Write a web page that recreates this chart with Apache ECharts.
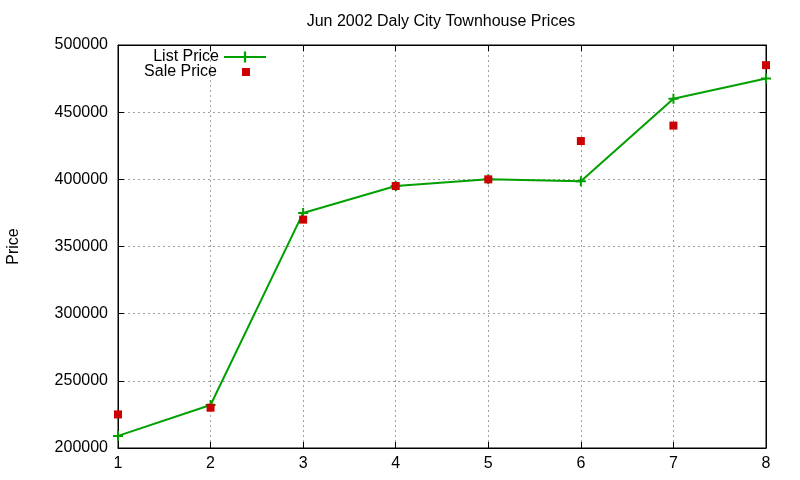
<!DOCTYPE html>
<html>
<head>
<meta charset="utf-8">
<script src="https://cdn.jsdelivr.net/npm/echarts@6/dist/echarts.min.js"></script>
<style>
  html, body { margin: 0; padding: 0; background: #fff; }
  #chart { width: 800px; height: 480px; }
</style>
</head>
<body>
<div id="chart"></div>
<script>
// values
var houses = [1, 2, 3, 4, 5, 6, 7, 8];
var listPrice = [209000, 232000, 375000, 395000, 400000, 398500, 460000, 475000];
var salePrice = [225000, 230000, 370000, 395000, 400000, 428500, 440000, 485000];

var chart = echarts.init(document.getElementById('chart'));
var font = 'Liberation Sans, Arial, sans-serif';
var green = '#00a000';
var red = '#cc0000';
var plus = 'path://M0,4H10V6H0Z M4,0H6V10H4Z';

function pairs(xs, ys) {
    var out = [];
    for (var i = 0; i < xs.length; i++) {
        out.push([xs[i], ys[i]]);
    }
    return out;
}

var gridLine = { show: true, lineStyle: { color: '#a0a0a0', type: [2, 3], width: 1 } };
var blackLine = { show: true, lineStyle: { color: '#000', width: 1 } };
var inTick = { show: true, inside: true, length: 6, lineStyle: { color: '#000' } };

var option = {
    animation: false,
    backgroundColor: '#fff',
    textStyle: { fontFamily: font },
    title: {
        text: 'Jun 2002 Daly City Townhouse Prices',
        left: 436,
        textAlign: 'center',
        top: 9,
        textStyle: { fontFamily: font, fontSize: 16, fontWeight: 'normal', color: '#000' }
    },
    legend: [
        {
            data: ['List Price'],
            align: 'right',
            right: 533,
            top: 49,
            padding: 0,
            itemWidth: 42,
            itemHeight: 14,
            textStyle: { fontFamily: font, fontSize: 16, color: '#000' }
        },
        {
            data: [{ name: 'Sale Price', icon: 'rect' }],
            align: 'right',
            right: 550,
            top: 64,
            padding: 0,
            itemWidth: 8,
            itemHeight: 8,
            formatter: '{a|{name}}',
            textStyle: {
                fontFamily: font, fontSize: 16, color: '#000',
                rich: { a: { fontFamily: font, fontSize: 16, color: '#000', padding: [0, 20, 0, 0] } }
            }
        }
    ],
    grid: {
        left: 118, right: 34, top: 45, bottom: 32,
        outerBoundsMode: 'none', containLabel: false,
        show: true, borderColor: '#000', borderWidth: 1
    },
    xAxis: [
        {
            type: 'value', min: 1, max: 8, interval: 1,
            axisLine: blackLine, axisTick: inTick, splitLine: gridLine,
            axisLabel: { fontFamily: font, fontSize: 16, color: '#000', margin: 8 }
        },
        {
            type: 'value', position: 'top', min: 1, max: 8, interval: 1,
            axisLine: blackLine, axisTick: inTick, splitLine: { show: false },
            axisLabel: { show: false }
        }
    ],
    yAxis: [
        {
            type: 'value', min: 200000, max: 500000, interval: 50000,
            name: 'Price', nameLocation: 'middle', nameGap: 96, nameRotate: 90,
            nameTextStyle: { fontFamily: font, fontSize: 16, color: '#000' },
            axisLine: blackLine, axisTick: inTick, splitLine: gridLine,
            axisLabel: {
                fontFamily: font, fontSize: 16, color: '#000', margin: 10,
                formatter: function (v) { return String(v); }
            }
        },
        {
            type: 'value', position: 'right', min: 200000, max: 500000, interval: 50000,
            axisLine: blackLine, axisTick: inTick, splitLine: { show: false },
            axisLabel: { show: false }
        }
    ],
    series: [
        {
            name: 'List Price',
            type: 'line',
            data: pairs(houses, listPrice),
            symbol: plus,
            symbolSize: 10,
            showAllSymbol: true,
            lineStyle: { color: green, width: 2 },
            itemStyle: { color: green },
            z: 3
        },
        {
            name: 'Sale Price',
            type: 'scatter',
            data: pairs(houses, salePrice),
            symbol: 'rect',
            symbolSize: 8,
            itemStyle: { color: red, opacity: 1 },
            z: 4
        }
    ]
};

chart.setOption(option);
</script>
</body>
</html>
